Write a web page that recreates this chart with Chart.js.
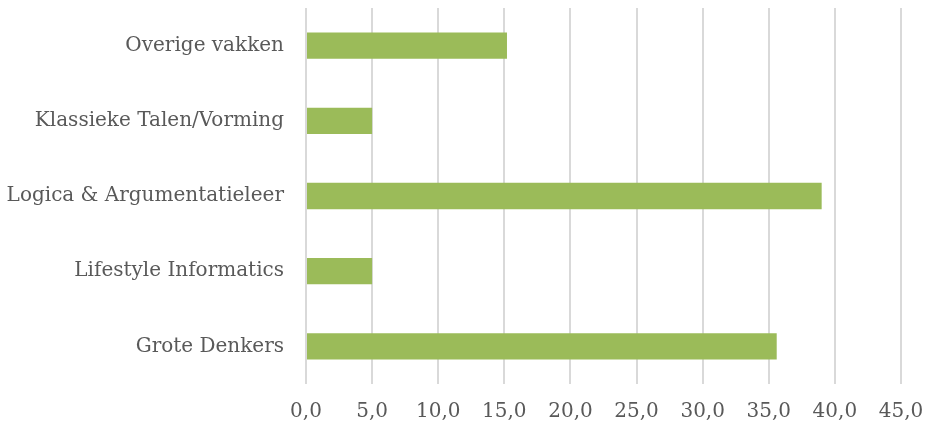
<!DOCTYPE html>
<html>
<head>
<meta charset="utf-8">
<script src="https://cdn.jsdelivr.net/npm/chart.js@4.4.0/dist/chart.umd.min.js"></script>
<style>
    html, body { margin: 0; padding: 0; background: #fff; overflow: hidden; }
</style>
</head>
<body>
<canvas id="myChart" width="927" height="430"></canvas>
<script>
// categories (top to bottom)
var categories = ['Overige vakken', 'Klassieke Talen/Vorming', 'Logica & Argumentatieleer', 'Lifestyle Informatics', 'Grote Denkers'];
var values = [15.2, 5.0, 39.0, 5.0, 35.6];
var xTicks = [0, 5, 10, 15, 20, 25, 30, 35, 40, 45];

var fontFamily = "'DejaVu Serif', serif";

var config = {
    type: 'bar',
    data: {
        labels: categories,
        datasets: [{
            data: values,
            backgroundColor: '#9bbb59',
            borderWidth: 0,
            barPercentage: 0.35,
            categoryPercentage: 1.0
        }]
    },
    options: {
        responsive: false,
        indexAxis: 'y',
        animation: false,
        layout: { padding: { top: 8, right: 26, bottom: 0, left: 0 } },
        plugins: {
            legend: { display: false },
            tooltip: { enabled: false }
        },
        scales: {
            x: {
                min: 0,
                max: 45,
                afterBuildTicks: function (axis) {
                    axis.ticks = xTicks.map(function (v) { return { value: v }; });
                },
                ticks: {
                    color: '#595959',
                    font: { family: fontFamily, size: 20 },
                    padding: 16,
                    maxRotation: 0,
                    callback: function (v) { return v.toFixed(1).replace('.', ','); }
                },
                grid: { color: '#d9d9d9', lineWidth: 2, drawTicks: false },
                border: { display: false },
                afterFit: function (axis) {
                    axis.height = 46;
                    axis.paddingLeft = 0;
                    axis.paddingRight = 0;
                }
            },
            y: {
                ticks: {
                    color: '#595959',
                    font: { family: fontFamily, size: 20 },
                    padding: 22
                },
                grid: { display: false, drawTicks: false },
                border: { display: false },
                afterFit: function (axis) {
                    axis.width = 306;
                    axis.paddingTop = 0;
                    axis.paddingBottom = 0;
                }
            }
        }
    }
};

new Chart(document.getElementById('myChart'), config);
</script>
</body>
</html>
